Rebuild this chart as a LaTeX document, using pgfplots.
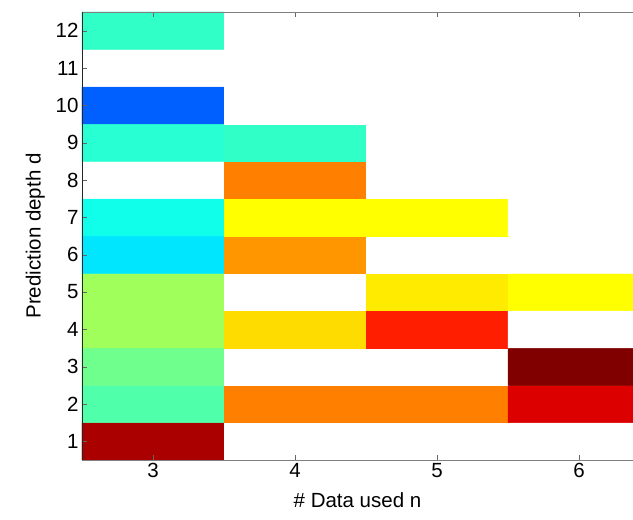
\documentclass[border=0pt]{standalone}
\usepackage{pgfplots}
\pgfplotsset{compat=1.18}
\usepackage{fontspec}
\setmainfont{Liberation Sans}
\begin{document}
\begin{tikzpicture}
\begin{axis}[
  scale only axis,
  width=551pt, height=448pt,
  xmin=2.5, xmax=6.38, ymin=0.5, ymax=12.5,
  axis on top,
  separate axis lines,
  axis x line=box, axis y line=left,
  x axis line style={black!50, -},
  y axis line style={black!85, -},
  xtick={3,4,5,6}, ytick={1,2,...,12},
  tick align=inside,
  major tick length=5pt,
  tick style={black!60},
  ticklabel style={font=\fontsize{20.5}{24}\selectfont},
  label style={font=\fontsize{20.5}{24}\selectfont},
  /pgf/number format/assume math mode=true,
  xlabel={\# Data used n},
  ylabel={Prediction depth d},
  xlabel style={yshift=-8pt},
  ylabel style={yshift=4pt},
]
\addplot[matrix plot*, mesh/cols=4, mesh/color input=explicit, point meta=explicit symbolic]
table[meta=c] {
x y c
3 1 rgb=0.667,0,0
4 1 rgb=1,1,1
5 1 rgb=1,1,1
6 1 rgb=1,1,1
3 2 rgb=0.314,1,0.667
4 2 rgb=1,0.502,0
5 2 rgb=1,0.502,0
6 2 rgb=0.863,0,0
3 3 rgb=0.431,1,0.549
4 3 rgb=1,1,1
5 3 rgb=1,1,1
6 3 rgb=0.502,0,0
3 4 rgb=0.627,1,0.353
4 4 rgb=1,0.863,0
5 4 rgb=1,0.118,0
6 4 rgb=1,1,1
3 5 rgb=0.627,1,0.353
4 5 rgb=1,1,1
5 5 rgb=1,0.922,0
6 5 rgb=1,1,0
3 6 rgb=0,0.902,1
4 6 rgb=1,0.588,0
5 6 rgb=1,1,1
6 6 rgb=1,1,1
3 7 rgb=0.063,1,0.922
4 7 rgb=1,1,0
5 7 rgb=1,1,0
6 7 rgb=1,1,1
3 8 rgb=1,1,1
4 8 rgb=1,0.502,0
5 8 rgb=1,1,1
6 8 rgb=1,1,1
3 9 rgb=0.157,1,0.824
4 9 rgb=0.188,1,0.784
5 9 rgb=1,1,1
6 9 rgb=1,1,1
3 10 rgb=0,0.376,1
4 10 rgb=1,1,1
5 10 rgb=1,1,1
6 10 rgb=1,1,1
3 11 rgb=1,1,1
4 11 rgb=1,1,1
5 11 rgb=1,1,1
6 11 rgb=1,1,1
3 12 rgb=0.188,1,0.784
4 12 rgb=1,1,1
5 12 rgb=1,1,1
6 12 rgb=1,1,1
};
\end{axis}
\pgfresetboundingbox
\path[use as bounding box] ([shift={(-82pt,-60pt)}]current axis.south west) rectangle ([shift={(0pt,12pt)}]current axis.north east);
\end{tikzpicture}
\end{document}
